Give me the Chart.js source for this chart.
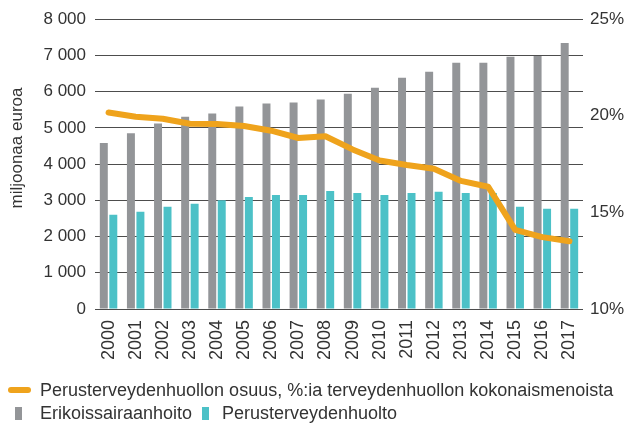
<!DOCTYPE html>
<html>
<head>
<meta charset="utf-8">
<script src="https://cdn.jsdelivr.net/npm/chart.js@4/dist/chart.umd.min.js"></script>
<style>
  html, body { margin: 0; padding: 0; background: #fff; }
  #wrap { position: relative; width: 625px; height: 425px; font-family: "Liberation Sans", Arial, sans-serif; color: #333; }
  #c { position: absolute; left: 0; top: 0; }
  #ytitle { position: absolute; left: 17px; top: 148px; transform: translate(-50%, -50%) rotate(-90deg); white-space: nowrap; font-size: 17px; color: #333; }
  .leg { position: absolute; font-size: 18px; white-space: nowrap; line-height: 20px; color: #333; }
  .mk { position: absolute; }
</style>
</head>
<body>
<div id="wrap">
  <canvas id="c" width="625" height="425"></canvas>
  <div id="ytitle">miljoonaa euroa</div>
  <div class="mk" style="left:8px;top:387px;width:23px;height:6px;border-radius:3px;background:#EFA31C"></div>
  <div class="leg" style="left:40px;top:380px">Perusterveydenhuollon osuus, %:ia terveydenhuollon kokonaismenoista</div>
  <div class="mk" style="left:15px;top:407px;width:7px;height:13px;background:#939598"></div>
  <div class="leg" style="left:40px;top:403px">Erikoissairaanhoito</div>
  <div class="mk" style="left:202px;top:407px;width:7px;height:13px;background:#4CC1C7"></div>
  <div class="leg" style="left:222px;top:403px">Perusterveydenhuolto</div>
</div>
<script>
const years = ['2000','2001','2002','2003','2004','2005','2006','2007','2008','2009','2010','2011','2012','2013','2014','2015','2016','2017'];
const erikoissairaanhoito = [4580, 4850, 5120, 5310, 5400, 5590, 5670, 5700, 5780, 5945, 6110, 6385, 6550, 6795, 6795, 6960, 6985, 7340];
const perusterveydenhuolto = [2600, 2685, 2820, 2905, 3005, 3095, 3150, 3150, 3260, 3205, 3150, 3205, 3235, 3205, 3200, 2820, 2765, 2765];
const osuusPct = [20.17, 19.95, 19.85, 19.59, 19.57, 19.47, 19.23, 18.85, 18.94, 18.26, 17.69, 17.45, 17.26, 16.63, 16.33, 14.1, 13.72, 13.51];
const leftTicks = [0, 1000, 2000, 3000, 4000, 5000, 6000, 7000, 8000];
const rightTicks = [10, 15, 20, 25];

const fmt = v => String(v).replace(/\B(?=(\d{3})+(?!\d))/g, ' ');

new Chart(document.getElementById('c'), {
  data: {
    labels: years,
    datasets: [
      { type: 'line', label: 'Perusterveydenhuollon osuus, %:ia terveydenhuollon kokonaismenoista', data: osuusPct, yAxisID: 'y2',
        borderColor: '#EFA31C', borderWidth: 6, pointRadius: 0, tension: 0, borderCapStyle: 'round', borderJoinStyle: 'round' },
      { type: 'bar', label: 'Erikoissairaanhoito', data: erikoissairaanhoito, yAxisID: 'y', backgroundColor: '#939598',
        categoryPercentage: 0.7, barPercentage: 0.84 },
      { type: 'bar', label: 'Perusterveydenhuolto', data: perusterveydenhuolto, yAxisID: 'y', backgroundColor: '#4CC1C7',
        categoryPercentage: 0.7, barPercentage: 0.84 }
    ]
  },
  options: {
    responsive: false,
    animation: false,
    layout: { padding: { top: 17, left: 0, right: 0, bottom: 0 } },
    plugins: { legend: { display: false }, tooltip: { enabled: false } },
    scales: {
      x: {
        grid: { display: false, drawTicks: false },
        border: { display: false },
        ticks: { color: '#333', font: { size: 18, family: 'Liberation Sans' }, minRotation: 90, maxRotation: 90, autoSkip: false, padding: 11 },
        afterFit: s => { s.height = 116; }
      },
      y: {
        position: 'left', min: 0, max: 8000,
        afterBuildTicks: s => { s.ticks = leftTicks.map(v => ({ value: v })); },
        grid: { color: '#4d4d4d', lineWidth: 1, drawTicks: false },
        border: { display: false },
        ticks: { color: '#333', font: { size: 17, family: 'Liberation Sans' }, padding: 9, callback: v => fmt(v) },
        afterFit: s => { s.width = 95; }
      },
      y2: {
        position: 'right', min: 10, max: 25,
        afterBuildTicks: s => { s.ticks = rightTicks.map(v => ({ value: v })); },
        grid: { display: false, drawTicks: false },
        border: { display: false },
        ticks: { color: '#333', font: { size: 17, family: 'Liberation Sans' }, padding: 7, callback: v => v + '%' },
        afterFit: s => { s.width = 42; }
      }
    }
  }
});
</script>
</body>
</html>
